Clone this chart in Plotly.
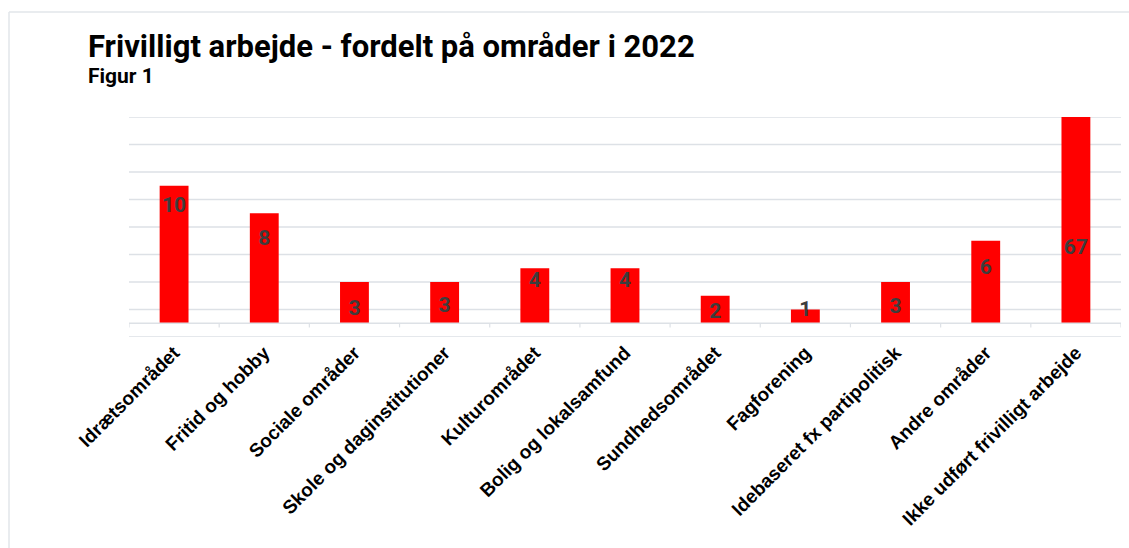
import plotly.graph_objects as go

categories = ["Idrætsområdet", "Fritid og hobby", "Sociale områder", "Skole og daginstitutioner",
              "Kulturområdet", "Bolig og lokalsamfund", "Sundhedsområdet", "Fagforening",
              "Idebaseret fx partipolitisk", "Andre områder", "Ikke udført frivilligt arbejde"]
values = [10, 8, 3, 3, 4, 4, 2, 1, 3, 6, 67]
label_y = [8.5, 6.05, 1.0, 1.2, 3.0, 3.0, 0.75, 0.9, 1.1, 4.0, 5.4]
y_min, y_max = -1, 15
grid_vals = list(range(-1, 16, 2))

W, H = 1129, 548
L, R, T, B = 129, 8, 117, 211
GRID = "#dde1e6"

fig = go.Figure()
fig.add_trace(go.Bar(x=categories, y=values, width=0.32,
                     marker=dict(color="#ff0000", line=dict(width=0)),
                     cliponaxis=True, hoverinfo="x+y"))
fig.add_trace(go.Scatter(x=categories, y=label_y, mode="text", text=[str(v) for v in values],
                         textfont=dict(family="Roboto", size=21, color="#3d3d3d", weight="bold"),
                         hoverinfo="skip"))

n = len(categories)
shapes = []
# horizontal gridlines
for g in grid_vals:
    shapes.append(dict(type="line", xref="x", yref="y", x0=-0.5, x1=n - 0.5, y0=g, y1=g,
                       line=dict(color=GRID, width=1.5), layer="below"))
# baseline at zero with category-boundary tick marks
shapes.append(dict(type="line", xref="x", yref="y", x0=-0.5, x1=n - 0.5, y0=0, y1=0,
                   line=dict(color=GRID, width=1.5), layer="above"))
for i in range(n + 1):
    shapes.append(dict(type="line", xref="x", yref="y", x0=i - 0.5, x1=i - 0.5, y0=0, y1=-0.3,
                       line=dict(color=GRID, width=1.2)))

pw, ph = W - L - R, H - T - B
def px_x(p):
    return (p - L) / pw
def px_y(p):
    return (H - B - p) / ph
# outer frame (top and left edges)
shapes.append(dict(type="line", xref="paper", yref="paper", x0=px_x(9), x1=px_x(W + 5),
                   y0=px_y(12), y1=px_y(12), line=dict(color="#e2e6ea", width=1.5)))
shapes.append(dict(type="line", xref="paper", yref="paper", x0=px_x(9), x1=px_x(9),
                   y0=px_y(12), y1=px_y(H + 5), line=dict(color="#e2e6ea", width=1.5)))

fig.update_layout(
    width=W, height=H,
    margin=dict(l=L, r=R, t=T, b=B),
    plot_bgcolor="white", paper_bgcolor="white",
    showlegend=False,
    shapes=shapes,
    annotations=[
        dict(text="<b>Frivilligt arbejde - fordelt på områder i 2022</b>", xref="paper", yref="paper",
             x=px_x(86), y=px_y(46), xanchor="left", yanchor="middle", showarrow=False,
             font=dict(family="Roboto", size=31, color="#000000")),
        dict(text="<b>Figur 1</b>", xref="paper", yref="paper",
             x=px_x(86), y=px_y(76), xanchor="left", yanchor="middle", showarrow=False,
             font=dict(family="Roboto", size=21, color="#000000")),
    ],
    xaxis=dict(type="category", range=[-0.5, n - 0.5], showgrid=False, showline=False,
               ticks="", tickangle=-45, automargin=False,
               tickfont=dict(family="Liberation Sans", size=19, color="#000000", weight="bold")),
    yaxis=dict(range=[y_min, y_max], showticklabels=False, showgrid=False,
               zeroline=False, showline=False, automargin=False),
)

fig.write_html("out.html", config={"displayModeBar": False},
               post_script="document.body.style.margin='0';")
